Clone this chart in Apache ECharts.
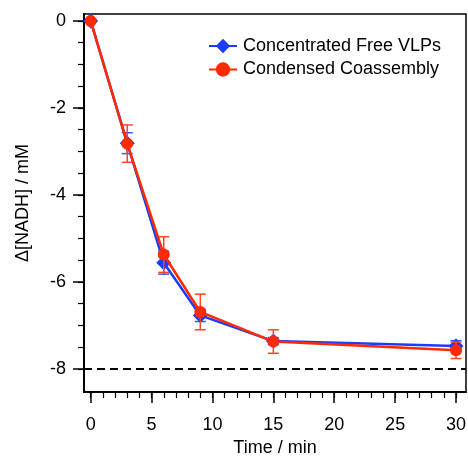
<!DOCTYPE html>
<html>
<head>
<meta charset="utf-8">
<script src="https://cdn.jsdelivr.net/npm/echarts@6/dist/echarts.min.js"></script>
<style>
  html, body { margin: 0; padding: 0; background: #fff; }
  #chart { width: 468px; height: 456px; }
</style>
</head>
<body>
<div id="chart"></div>
<script>
// Sampling times (min)
const times = [0, 3, 6, 9, 15, 30];
// Concentrated Free VLPs: mean and error
const vlpMean = [0, -2.81, -5.56, -6.77, -7.36, -7.47];
const vlpErr  = [0, 0.24, 0.26, 0.14, 0.08, 0.12];
// Condensed Coassembly: mean and error
const coMean = [0, -2.82, -5.37, -6.69, -7.37, -7.57];
const coErr  = [0, 0.43, 0.41, 0.41, 0.27, 0.19];
// Axis tick labels
const xTicks = [0, 5, 10, 15, 20, 25, 30];
const xMinorTicks = Array.from({length: 31}, (_, i) => i);
const yTicks = [0, -2, -4, -6, -8];
const yMinorTicks = Array.from({length: 17}, (_, i) => -i / 2);
const fullLevel = -8;

const FONT = 'Liberation Sans';
const BLUE = '#1a3cff';
const RED = '#ff2a00';

const X_MIN = -0.55, X_MAX = 30.82;
const Y_MIN = -8.53, Y_MAX = 0.16;

function pairs(xs, ys) { return xs.map((x, i) => [x, ys[i]]); }
function errRows(xs, m, e) { return xs.map((x, i) => [x, m[i] - e[i], m[i] + e[i]]); }

function errRender(color) {
  return function (params, api) {
    const x = api.value(0), lo = api.value(1), hi = api.value(2);
    if (hi - lo <= 0) return null;
    const top = api.coord([x, hi]);
    const bot = api.coord([x, lo]);
    const cap = 5.5;
    const style = { stroke: color, lineWidth: 1.5 };
    return {
      type: 'group',
      children: [
        { type: 'line', shape: { x1: top[0], y1: top[1], x2: bot[0], y2: bot[1] }, style },
        { type: 'line', shape: { x1: top[0] - cap, y1: top[1], x2: top[0] + cap, y2: top[1] }, style },
        { type: 'line', shape: { x1: bot[0] - cap, y1: bot[1], x2: bot[0] + cap, y2: bot[1] }, style }
      ]
    };
  };
}

const axisText = { color: '#000', fontFamily: FONT, fontSize: 18 };

const chart = echarts.init(document.getElementById('chart'), null, { renderer: 'canvas' });
chart.setOption({
  animation: false,
  backgroundColor: '#fff',
  grid: {
    left: 84, right: 2, top: 14, bottom: 64,
    outerBoundsMode: 'none', containLabel: false,
    show: true, borderColor: '#000', borderWidth: 1.5, backgroundColor: 'transparent'
  },
  legend: {
    orient: 'vertical',
    left: 203, top: 32,
    itemWidth: 28, itemHeight: 18, itemGap: 5.5,
    textStyle: { color: '#000', fontFamily: FONT, fontSize: 18, padding: [0, 0, 0, 1] },
    data: ['Concentrated Free VLPs', 'Condensed Coassembly']
  },
  xAxis: [{
    type: 'value', min: X_MIN, max: X_MAX,
    name: 'Time / min', nameLocation: 'middle', nameGap: 45,
    nameTextStyle: axisText,
    axisLine: { show: true, onZero: false, lineStyle: { color: '#000', width: 2 } },
    axisTick: { show: true, length: 11, customValues: xTicks, lineStyle: { color: '#000', width: 1.5 } },
    axisLabel: Object.assign({ customValues: xTicks, margin: 24 }, axisText),
    splitLine: { show: false }
  }, {
    type: 'value', min: X_MIN, max: X_MAX, position: 'bottom',
    axisLine: { show: false, onZero: false },
    axisTick: { show: true, length: 6, customValues: xMinorTicks, lineStyle: { color: '#000', width: 1.2 } },
    axisLabel: { show: false },
    splitLine: { show: false }
  }],
  yAxis: [{
    type: 'value', min: Y_MIN, max: Y_MAX,
    name: 'Δ[NADH] / mM', nameLocation: 'middle', nameGap: 52, nameRotate: 90,
    nameTextStyle: axisText,
    axisLine: { show: true, onZero: false, lineStyle: { color: '#000', width: 2 } },
    axisTick: { show: true, length: 11, customValues: yTicks, lineStyle: { color: '#000', width: 1.5 } },
    axisLabel: Object.assign({ customValues: yTicks, margin: 18 }, axisText),
    splitLine: { show: false }
  }, {
    type: 'value', min: Y_MIN, max: Y_MAX, position: 'left',
    axisLine: { show: false, onZero: false },
    axisTick: { show: true, length: 6, customValues: yMinorTicks, lineStyle: { color: '#000', width: 1.2 } },
    axisLabel: { show: false },
    splitLine: { show: false }
  }],
  series: [
    {
      type: 'custom', name: 'vlpErr', renderItem: errRender('#3a55ff'),
      encode: { x: 0, y: [1, 2] }, data: errRows(times, vlpMean, vlpErr), z: 3
    },
    {
      type: 'line', name: 'Concentrated Free VLPs', data: pairs(times, vlpMean),
      symbol: 'diamond', symbolSize: 15,
      itemStyle: { color: BLUE }, lineStyle: { color: BLUE, width: 2.5 }, z: 4,
      markLine: {
        silent: true, symbol: 'none', label: { show: false },
        lineStyle: { color: '#000', type: [8, 5], width: 2 },
        data: [{ yAxis: fullLevel }]
      }
    },
    {
      type: 'custom', name: 'coErr', renderItem: errRender('#ff4422'),
      encode: { x: 0, y: [1, 2] }, data: errRows(times, coMean, coErr), z: 5
    },
    {
      type: 'line', name: 'Condensed Coassembly', data: pairs(times, coMean),
      symbol: 'circle', symbolSize: 12,
      itemStyle: { color: RED }, lineStyle: { color: RED, width: 2.5 }, z: 6
    }
  ]
});
</script>
</body>
</html>
